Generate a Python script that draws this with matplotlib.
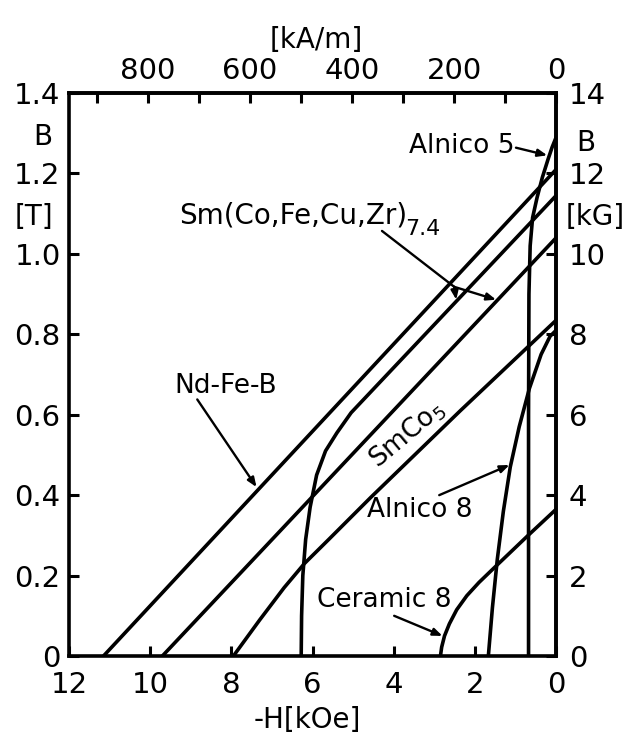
#!/usr/bin/env python3
"""Demagnetization curves of permanent magnet materials (B vs -H)."""
import matplotlib
matplotlib.use("Agg")
import matplotlib.pyplot as plt

# -H [kOe] and B [T]
nd_H = [11.15, 0.0]
nd_B = [0.0, 1.21]

smcofe_H = [9.7, 0.0]          # Sm(Co,Fe,Cu,Zr)7.4, straight
smcofe_B = [0.0, 1.04]

smcofe_knee_H = [6.28, 6.27, 6.24, 6.17, 6.06, 5.9, 5.68, 5.4, 5.05, 0.0]
smcofe_knee_B = [0.0, 0.1, 0.2, 0.29, 0.37, 0.45, 0.51, 0.555, 0.605, 1.145]

smco5_H = [7.95, 7.3, 6.7, 6.2, 5.6, 4.56, 2.36, 0.0]
smco5_B = [0.0, 0.09, 0.17, 0.23, 0.29, 0.395, 0.61, 0.835]

alnico5_H = [0.0, 0.1, 0.2, 0.34, 0.47, 0.58, 0.64, 0.67, 0.68, 0.68]
alnico5_B = [1.29, 1.265, 1.235, 1.19, 1.14, 1.09, 1.02, 0.9, 0.6, 0.0]

alnico8_H = [0.0, 0.15, 0.37, 0.66, 0.91, 1.13, 1.3, 1.45, 1.57, 1.67]
alnico8_B = [0.81, 0.795, 0.75, 0.665, 0.57, 0.47, 0.36, 0.24, 0.12, 0.0]

ceramic8_H = [0.0, 0.69, 1.52, 1.9, 2.2, 2.45, 2.63, 2.75, 2.82, 2.85]
ceramic8_B = [0.365, 0.30, 0.22, 0.183, 0.15, 0.115, 0.08, 0.05, 0.022, 0.0]

kOe_ticks = [12, 10, 8, 6, 4, 2, 0]
tesla_ticks = [0, 0.2, 0.4, 0.6, 0.8, 1.0, 1.2, 1.4]
tesla_labels = ["0", "0.2", "0.4", "0.6", "0.8", "1.0", "1.2", "1.4"]
kAm_ticks = list(range(0, 901, 100))
kG_ticks = [0, 2, 4, 6, 8, 10, 12, 14]

KAM_PER_KOE = 79.577

plt.rcParams["font.family"] = ["DejaVu Sans"]

fig = plt.figure(figsize=(6.27, 7.53), dpi=100)
ax = fig.add_axes([0.110, 0.1288, 0.777, 0.7477])

curves = [
    (nd_H, nd_B), (smcofe_H, smcofe_B), (smcofe_knee_H, smcofe_knee_B),
    (smco5_H, smco5_B), (alnico5_H, alnico5_B), (alnico8_H, alnico8_B),
    (ceramic8_H, ceramic8_B),
]
for h, b in curves:
    ax.plot(h, b, color="k", lw=2.6, solid_joinstyle="round")

ax.set_xlim(12, 0)
ax.set_ylim(0, 1.4)
for s in ax.spines.values():
    s.set_linewidth(2.6)

tfs = 21
ax.set_xticks(kOe_ticks)
ax.set_xticklabels([str(t) for t in kOe_ticks])
ax.set_yticks(tesla_ticks)
ax.set_yticklabels(tesla_labels)
ax.tick_params(direction="in", length=7, width=2.2, labelsize=tfs,
               top=False, right=False)
ax.tick_params(axis="x", pad=11)
ax.tick_params(axis="y", pad=6)

top = ax.secondary_xaxis("top", functions=(lambda h: h * KAM_PER_KOE,
                                            lambda a: a / KAM_PER_KOE))
top.set_xticks(kAm_ticks)
top.set_xticklabels([str(t) if t % 200 == 0 else "" for t in kAm_ticks])
top.tick_params(direction="in", length=7, width=2.2, labelsize=tfs, pad=6)
top.spines["top"].set_linewidth(2.6)

right = ax.secondary_yaxis("right", functions=(lambda b: b * 10,
                                                lambda k: k / 10))
right.set_yticks(kG_ticks)
right.set_yticklabels([str(t) for t in kG_ticks])
right.tick_params(direction="in", length=7, width=2.2, labelsize=tfs, pad=9)
right.spines["right"].set_linewidth(2.6)

# axis titles
fs = 20
ax.text(0.489, -0.114, "-H[kOe]", transform=ax.transAxes, ha="center",
        va="center", fontsize=fs)
ax.text(0.507, 1.094, "[kA/m]", transform=ax.transAxes, ha="center",
        va="center", fontsize=fs)
ax.text(-0.053, 0.922, "B", transform=ax.transAxes, ha="center",
        va="center", fontsize=fs)
ax.text(-0.072, 0.780, "[T]", transform=ax.transAxes, ha="center",
        va="center", fontsize=fs)
ax.text(1.06, 0.911, "B", transform=ax.transAxes, ha="center",
        va="center", fontsize=fs)
ax.text(1.08, 0.780, "[kG]", transform=ax.transAxes, ha="center",
        va="center", fontsize=fs)

# curve labels and pointers
lfs = 19
arrow = dict(arrowstyle="-|>,head_length=0.55,head_width=0.22", lw=1.7,
             color="k", shrinkA=0, shrinkB=0)
plain = dict(arrowstyle="-", lw=1.7, color="k", shrinkA=0, shrinkB=0)

ax.text(2.32, 1.267, "Alnico 5", ha="center", va="center", fontsize=lfs)
ax.annotate("", xy=(0.22, 1.245), xytext=(0.99, 1.264), arrowprops=arrow)

ax.text(9.29, 1.095, "Sm(Co,Fe,Cu,Zr)", ha="left", va="center",
        fontsize=20)
ax.text(3.72, 1.062, "7.4", ha="left", va="center", fontsize=16)
ax.annotate("", xy=(2.51, 0.918), xytext=(4.29, 1.057), arrowprops=plain)
ax.annotate("", xy=(2.46, 0.886), xytext=(2.51, 0.918), arrowprops=arrow)
ax.annotate("", xy=(1.48, 0.886), xytext=(2.51, 0.918), arrowprops=arrow)

ax.text(8.13, 0.671, "Nd-Fe-B", ha="center", va="center", fontsize=lfs)
ax.annotate("", xy=(7.38, 0.42), xytext=(8.84, 0.638), arrowprops=arrow)

ax.text(3.67, 0.551, "SmCo$_5$", ha="center", va="center", fontsize=lfs,
        rotation=40, rotation_mode="anchor")

ax.text(3.35, 0.364, "Alnico 8", ha="center", va="center", fontsize=lfs)
ax.annotate("", xy=(1.15, 0.475), xytext=(2.88, 0.40), arrowprops=arrow)

ax.text(4.24, 0.14, "Ceramic 8", ha="center", va="center", fontsize=lfs)
ax.annotate("", xy=(2.8, 0.05), xytext=(3.99, 0.10), arrowprops=arrow)

fig.savefig("out.png", dpi=100, facecolor="white")
plt.close(fig)
